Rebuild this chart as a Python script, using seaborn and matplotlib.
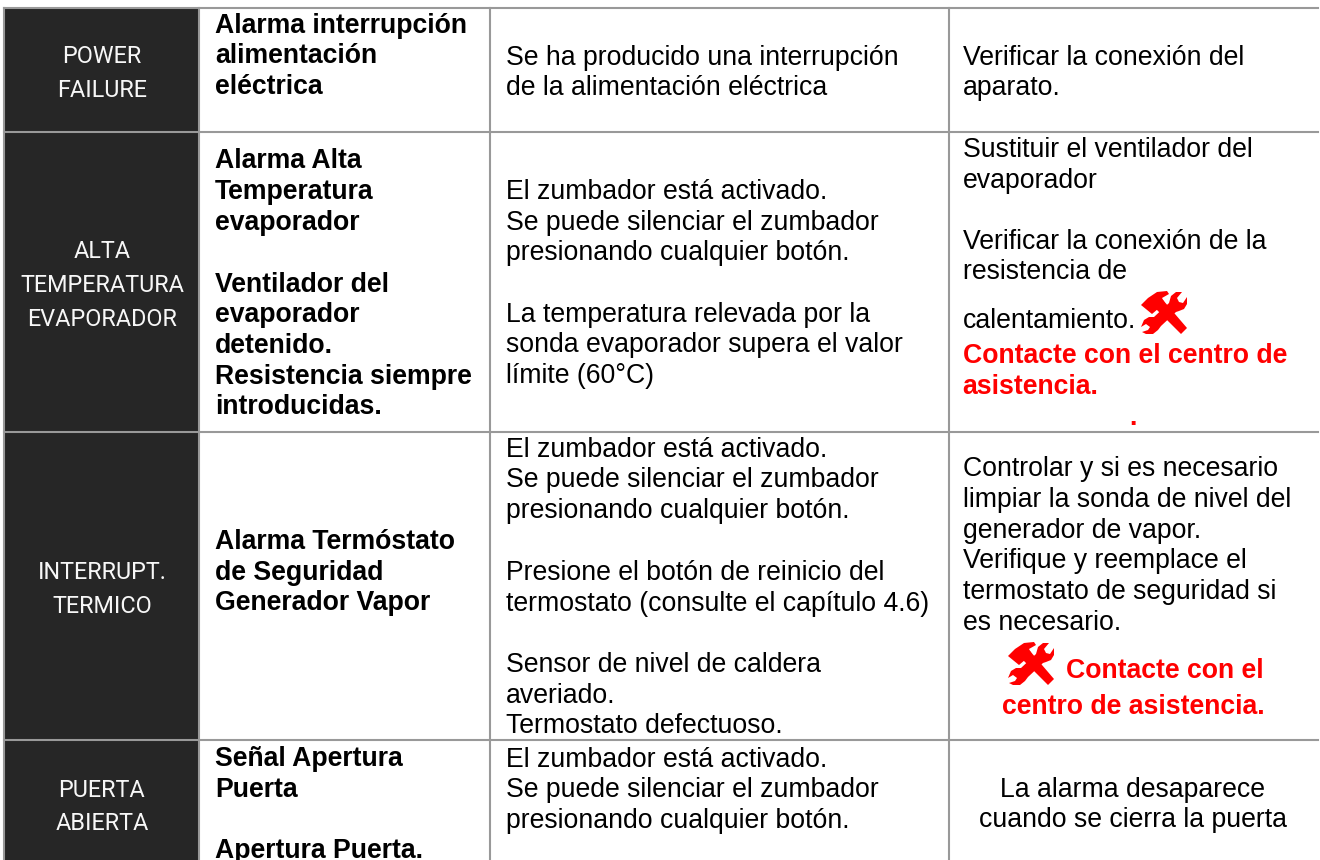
import matplotlib.pyplot as plt
import pandas as pd
import seaborn as sns
from matplotlib.colors import ListedColormap

sns.set_theme(style="white")

# Table text, one list per column
codes = [["POWER", "FAILURE"],
         ["ALTA", "TEMPERATURA", "EVAPORADOR"],
         ["INTERRUPT.", "TERMICO"],
         ["PUERTA", "ABIERTA"]]
alarms = [["Alarma interrupción", "alimentación", "eléctrica"],
          ["Alarma Alta", "Temperatura", "evaporador", "Ventilador del", "evaporador",
           "detenido.", "Resistencia siempre", "introducidas."],
          ["Alarma Termóstato", "de Seguridad", "Generador Vapor"],
          ["Señal Apertura", "Puerta", "Apertura Puerta."]]
causes = [["Se ha producido una interrupción", "de la alimentación eléctrica"],
          ["El zumbador está activado.", "Se puede silenciar el zumbador",
           "presionando cualquier botón.", "La temperatura relevada por la",
           "sonda evaporador supera el valor", "límite (60°C)"],
          ["El zumbador está activado.", "Se puede silenciar el zumbador",
           "presionando cualquier botón.", "Presione el botón de reinicio del",
           "termostato (consulte el capítulo 4.6)", "Sensor de nivel de caldera",
           "averiado.", "Termostato defectuoso."],
          ["El zumbador está activado.", "Se puede silenciar el zumbador",
           "presionando cualquier botón."]]
fixes = [["Verificar la conexión del", "aparato."],
         ["Sustituir el ventilador del", "evaporador", "Verificar la conexión de la",
          "resistencia de", "calentamiento."],
         ["Controlar y si es necesario", "limpiar la sonda de nivel del",
          "generador de vapor.", "Verifique y reemplace el",
          "termostato de seguridad si", "es necesario."],
         ["La alarma desaparece", "cuando se cierra la puerta"]]
contact_row2 = ["Contacte con el centro de", "asistencia.", "."]
contact_row3 = ["Contacte con el", "centro de asistencia."]
dark_cells = [[1], [1], [1], [1]]

W, H = 1320, 860
BODY = "Liberation Sans"
SIZE = 19.2
GRID = "#999999"
RED = "#ff0000"

fig = plt.figure(figsize=(W / 100, H / 100), dpi=100)
fig.patch.set_facecolor("white")

# dark first column
left_ax = fig.add_axes([4 / W, 0, 195 / W, 1 - 8 / H])
sns.heatmap(pd.DataFrame(dark_cells), ax=left_ax, cbar=False, vmin=0, vmax=1,
            cmap=ListedColormap(["#262626"]), xticklabels=False, yticklabels=False)

# pixel coordinates for everything else
ax = fig.add_axes([0, 0, 1, 1], zorder=2)
ax.patch.set_visible(False)


def grid_line(xs, ys):
    sns.lineplot(x=xs, y=ys, ax=ax, color=GRID, linewidth=1.5, sort=False,
                 estimator=None, solid_capstyle="projecting", legend=False)


for y in [7.7, 131.5, 432, 740]:
    grid_line([3.5, 1318], [y, y])
for x in [3.5, 199, 489.5, 949]:
    grid_line([x, x], [7.7, H + 5])
ax.set_xlim(0, W)
ax.set_ylim(H, 0)
ax.axis("off")


def put(x, ys, lines, **kw):
    style = dict(family=BODY, fontsize=SIZE, color="black", va="baseline", ha="left")
    style.update(kw)
    for y, line in zip(ys, lines):
        ax.text(x, y, line, **style)


def tools(x0, y0):
    # hammer and wrench icon, 47x43 px
    head = [(1, 14), (8, 7), (17, 1), (27, 0), (29, 3), (22, 7), (25, 12), (12, 23)]
    handle = [(15, 17), (23, 9), (47, 37), (41, 43)]
    wrench = [(29, 12), (31, 5), (36, 1), (42, 1), (37, 7), (39, 11), (43, 12), (47, 6),
              (47, 13), (44, 18), (39, 20), (36, 21), (21, 35), (18, 39), (13, 43), (6, 43),
              (2, 41), (8, 39), (10, 36), (6, 33), (1, 36), (4, 29), (9, 26), (14, 26)]
    for shape in [head, handle, wrench]:
        ax.fill([x0 + p[0] for p in shape], [y0 + p[1] for p in shape], color=RED, lw=0)


# first column
code_style = dict(family="Roboto", fontsize=16.8, color="#f7f7f7", ha="center")
code_y = [[63, 97], [258, 292, 326], [579, 613], [797, 830]]
for ys, lines in zip(code_y, codes):
    put(102, ys, lines, **code_style)

# second column
alarm_y = [[33, 63, 94], [168, 199, 230, 292, 322, 353, 384, 414], [549, 580, 610], [766, 797, 858]]
for ys, lines in zip(alarm_y, alarms):
    put(215, ys, lines, fontweight="bold")

# third column
cause_y = [[65, 95], [199, 229.5, 260, 322, 352.5, 383],
           [457, 487, 518, 580, 611, 672, 703, 733], [767, 797, 828]]
for ys, lines in zip(cause_y, causes):
    put(505.7, ys, lines)

# fourth column
put(962.7, [65, 95], fixes[0])
put(962.7, [157, 188, 249, 279, 328], fixes[1])
put(962.7, [476, 507, 538, 568, 599, 630], fixes[2])
put(1133, [797, 827], fixes[3], ha="center")

put(962.7, [363, 394], contact_row2[:2], color=RED, fontweight="bold")
put(1133, [425], contact_row2[2:], color=RED, fontweight="bold", ha="center")
put(1066, [678], contact_row3[:1], color=RED, fontweight="bold")
put(1133, [714], contact_row3[1:], color=RED, fontweight="bold", ha="center")

tools(1140, 291)
tools(1007, 642)

fig.savefig("out.png", dpi=100)
